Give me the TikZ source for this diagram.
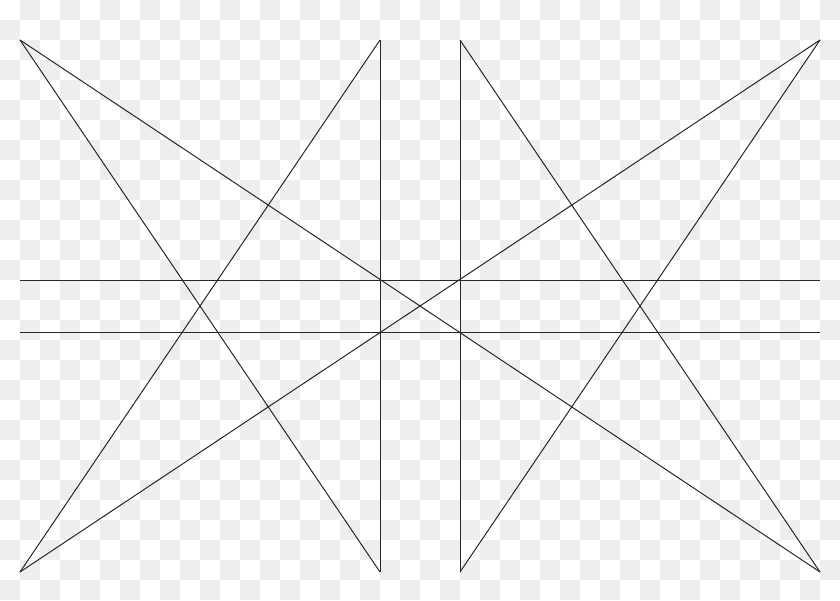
\documentclass[tikz,border=0pt]{standalone}
\usepackage{tikz}
\definecolor{mygray}{RGB}{238,238,238}
\definecolor{myline}{RGB}{40,40,40}
\begin{document}
\begin{tikzpicture}[x=1pt,y=-1pt,
    cell/.style={fill=mygray},
    ray/.style={draw=myline,line width=1pt}
  ]
  \useasboundingbox (0,0) rectangle (840,600);

  % the checker behind
  \fill[white] (0,0) rectangle (840,600);
  \foreach \i in {0,...,41}
    \foreach \j in {0,...,29}{
      \pgfmathtruncatemacro\odd{mod(\i+\j,2)}
      \ifnum\odd=1 \path[cell] (20*\i,20*\j) rectangle ++(20,20); \fi
    }

  % the corners of the rays
  \coordinate (tl) at (20,40);
  \coordinate (tm) at (380,40);
  \coordinate (tn) at (460,40);
  \coordinate (tr) at (820,40);
  \coordinate (bl) at (20,572);
  \coordinate (bm) at (380,572);
  \coordinate (bn) at (460,572);
  \coordinate (br) at (820,572);
  \coordinate (ha) at (20,280);
  \coordinate (hb) at (820,280);
  \coordinate (hc) at (20,332);
  \coordinate (hd) at (820,332);

  % the rays
  \draw[ray] (tl) -- (br);
  \draw[ray] (tr) -- (bl);
  \draw[ray] (tl) -- (bm);
  \draw[ray] (tm) -- (bl);
  \draw[ray] (tn) -- (br);
  \draw[ray] (tr) -- (bn);
  \draw[ray] (tm) -- (bm);
  \draw[ray] (tn) -- (bn);
  \draw[ray] (ha) -- (hb);
  \draw[ray] (hc) -- (hd);
\end{tikzpicture}
\end{document}
